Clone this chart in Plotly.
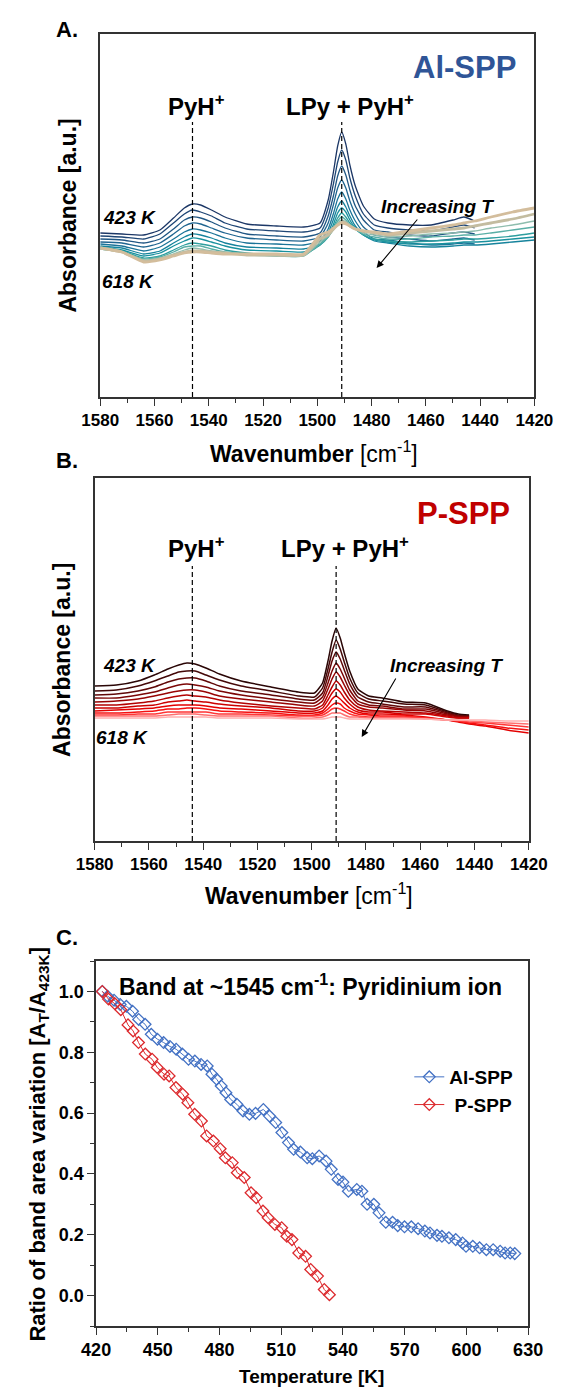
import plotly.graph_objects as go

W, H = 573, 1389
FONT = "Liberation Sans, Arial, sans-serif"
AX = "#333333"

# ---------------- Panel A / B spectra (wavenumber grid, cm-1) ----------------
WN = [1580, 1572, 1564, 1558, 1553, 1549, 1546, 1543, 1539, 1534, 1526, 1515, 1505,
      1499, 1496, 1494, 1492.5, 1491, 1489.5, 1488, 1486, 1483, 1479, 1474, 1466,
      1458, 1450, 1446, 1442, 1436, 1428, 1420]

A_TEMPS = [423, 441, 459, 476, 494, 512, 529, 547, 565, 583, 600, 618]
A_423 = [1.64,1.63,1.62,1.67,1.79,1.89,1.93,1.92,1.87,1.80,1.73,1.71,1.70,1.74,1.97,2.26,2.51,2.65,2.53,2.32,2.11,1.91,1.78,1.74,1.72,1.72,1.77,1.80,1.76,None,None,None]
A_441 = [1.61,1.60,1.58,1.63,1.74,1.83,1.87,1.85,1.81,1.74,1.68,1.66,1.65,1.69,1.89,2.14,2.35,2.47,2.37,2.19,2.01,1.83,1.72,1.69,1.67,1.66,1.70,1.72,1.69,None,None,None]
A_459 = [1.58,1.57,1.54,1.58,1.68,1.77,1.80,1.79,1.75,1.69,1.63,1.61,1.60,1.64,1.81,2.02,2.21,2.31,2.22,2.07,1.91,1.77,1.67,1.65,1.62,1.61,1.64,1.65,1.63,None,None,None]
A_476 = [1.55,1.54,1.50,1.54,1.63,1.71,1.74,1.73,1.69,1.64,1.59,1.57,1.56,1.60,1.74,1.93,2.09,2.17,2.09,1.96,1.83,1.70,1.62,1.60,1.58,1.56,1.58,1.59,1.57,None,None,None]
A_494 = [1.53,1.51,1.46,1.50,1.58,1.65,1.68,1.67,1.64,1.59,1.54,1.53,1.52,1.56,1.68,1.84,1.98,2.05,1.98,1.87,1.76,1.65,1.58,1.57,1.54,1.52,1.53,1.54,1.53,None,None,None]
A_512 = [1.51,1.49,1.43,1.46,1.54,1.60,1.63,1.62,1.59,1.54,1.50,1.49,1.48,1.53,1.64,1.78,1.90,1.96,1.90,1.81,1.71,1.62,1.56,1.54,1.51,1.50,1.51,1.52,1.52,1.53,1.55,1.57]
A_529 = [1.50,1.47,1.41,1.44,1.51,1.56,1.59,1.58,1.55,1.51,1.47,1.46,1.45,1.52,1.61,1.73,1.84,1.89,1.85,1.77,1.69,1.62,1.57,1.55,1.53,1.53,1.54,1.55,1.55,1.56,1.58,1.60]
A_547 = [1.49,1.46,1.39,1.41,1.47,1.52,1.54,1.53,1.51,1.47,1.44,1.42,1.42,1.52,1.60,1.70,1.79,1.84,1.80,1.74,1.68,1.62,1.58,1.56,1.55,1.56,1.57,1.58,1.58,1.59,1.61,1.64]
A_565 = [1.48,1.45,1.38,1.40,1.45,1.50,1.51,1.51,1.48,1.45,1.43,1.41,1.41,1.53,1.60,1.68,1.76,1.80,1.77,1.72,1.68,1.63,1.60,1.58,1.58,1.60,1.61,1.62,1.62,1.64,1.67,1.70]
A_583 = [1.48,1.45,1.37,1.39,1.43,1.47,1.49,1.48,1.46,1.44,1.42,1.41,1.41,1.55,1.61,1.68,1.74,1.77,1.75,1.71,1.68,1.64,1.62,1.60,1.61,1.63,1.64,1.65,1.66,1.69,1.72,1.76]
A_600 = [1.49,1.45,1.36,1.38,1.42,1.45,1.46,1.46,1.45,1.44,1.42,1.42,1.42,1.58,1.62,1.68,1.72,1.75,1.74,1.71,1.68,1.66,1.64,1.62,1.64,1.66,1.68,1.69,1.71,1.74,1.78,1.83]
A_618 = [1.49,1.45,1.35,1.37,1.41,1.44,1.45,1.45,1.44,1.43,1.43,1.43,1.43,1.62,1.65,1.69,1.72,1.74,1.73,1.71,1.68,1.66,1.65,1.63,1.66,1.69,1.72,1.74,1.76,1.80,1.85,1.89]
A_SPECTRA = [A_423, A_441, A_459, A_476, A_494, A_512, A_529, A_547, A_565, A_583, A_600, A_618]
A_COLORS = ["#1C3766", "#1F4675", "#205683", "#1F6590", "#1B7498", "#16839C",
            "#19919E", "#2E9E9F", "#5AAFA6", "#8EBDAE", "#C3BCA0", "#D3BD9C"]

B_TEMPS = [423, 441, 459, 476, 494, 512, 529, 547, 565, 583, 600, 618]
B_423 = [1.55,1.56,1.60,1.66,1.72,1.76,1.78,1.77,1.73,1.67,1.60,1.54,1.49,1.48,1.58,1.80,2.00,2.13,2.03,1.88,1.70,1.52,1.45,1.43,1.39,1.38,1.30,1.27,1.26,None,None,None]
B_441 = [1.50,1.51,1.55,1.60,1.65,1.69,1.70,1.70,1.66,1.61,1.55,1.50,1.45,1.44,1.53,1.72,1.89,2.01,1.92,1.79,1.63,1.48,1.42,1.40,1.37,1.36,1.29,1.26,1.25,None,None,None]
B_459 = [1.46,1.47,1.50,1.54,1.59,1.62,1.63,1.63,1.60,1.55,1.50,1.46,1.42,1.41,1.48,1.65,1.80,1.89,1.82,1.71,1.57,1.44,1.39,1.37,1.34,1.34,1.28,1.25,1.25,None,None,None]
B_476 = [1.43,1.43,1.46,1.49,1.53,1.56,1.57,1.56,1.54,1.50,1.46,1.42,1.39,1.38,1.44,1.58,1.70,1.78,1.72,1.63,1.51,1.40,1.36,1.35,1.32,1.32,1.27,1.25,1.24,None,None,None]
B_494 = [1.39,1.40,1.42,1.45,1.48,1.50,1.51,1.51,1.49,1.45,1.42,1.39,1.36,1.35,1.40,1.52,1.62,1.69,1.64,1.56,1.46,1.37,1.34,1.33,1.31,1.30,1.26,1.24,1.24,None,None,None]
B_512 = [1.36,1.36,1.38,1.40,1.43,1.45,1.46,1.45,1.44,1.41,1.38,1.35,1.33,1.32,1.36,1.46,1.54,1.60,1.56,1.49,1.41,1.34,1.31,1.30,1.29,1.28,1.25,1.23,1.23,None,None,None]
B_529 = [1.33,1.33,1.35,1.36,1.39,1.40,1.41,1.40,1.39,1.37,1.35,1.33,1.30,1.30,1.33,1.41,1.48,1.52,1.49,1.43,1.37,1.31,1.29,1.29,1.27,1.27,1.24,1.23,1.23,None,None,None]
B_547 = [1.30,1.31,1.32,1.33,1.35,1.36,1.36,1.36,1.35,1.33,1.32,1.30,1.28,1.28,1.30,1.36,1.42,1.45,1.42,1.38,1.33,1.29,1.27,1.27,1.26,1.24,1.21,1.19,1.17,1.15,1.11,1.08]
B_565 = [1.28,1.28,1.29,1.30,1.32,1.32,1.33,1.33,1.32,1.30,1.29,1.28,1.26,1.26,1.28,1.32,1.36,1.38,1.37,1.33,1.30,1.27,1.26,1.25,1.25,1.23,1.21,1.20,1.18,1.16,1.13,1.11]
B_583 = [1.26,1.26,1.27,1.27,1.29,1.29,1.29,1.29,1.29,1.27,1.27,1.26,1.25,1.25,1.26,1.29,1.32,1.33,1.32,1.30,1.27,1.25,1.24,1.24,1.24,1.23,1.21,1.20,1.19,1.18,1.16,1.14]
B_600 = [1.25,1.25,1.25,1.25,1.26,1.27,1.27,1.27,1.26,1.25,1.25,1.25,1.23,1.23,1.24,1.26,1.28,1.28,1.28,1.26,1.24,1.24,1.23,1.23,1.23,1.22,1.21,1.21,1.20,1.19,1.18,1.17]
B_618 = [1.23,1.23,1.23,1.23,1.24,1.24,1.24,1.24,1.24,1.23,1.23,1.23,1.22,1.22,1.22,1.23,1.24,1.24,1.24,1.23,1.22,1.22,1.22,1.22,1.22,1.22,1.21,1.21,1.21,1.21,1.20,1.20]
B_SPECTRA = [B_423, B_441, B_459, B_476, B_494, B_512, B_529, B_547, B_565, B_583, B_600, B_618]
B_COLORS = ["#2A0606", "#440808", "#600808", "#7C0606", "#980404", "#B30202",
            "#CC0000", "#E30000", "#F51010", "#FF3535", "#FF7070", "#FFB0B0"]

A_BANDS = [1546, 1491]
B_BANDS = [1544, 1491]
BAND_LINE_TOP = 2.75

# ---------------- Panel C: band area ratio vs temperature ----------------
AL_T = [423, 425.6, 428.7, 431.7, 434.7, 437.7, 440.7, 443.8, 446.8, 449.8, 452.8, 455.9,
        458.9, 461.9, 464.9, 468, 471, 474, 476.3, 478.6, 480.8, 483.1, 485.4, 488.4,
        491.4, 494.5, 497.5, 501.3, 504.3, 507.3, 510.3, 513.5, 516, 519.3, 522.6, 525.1,
        528.4, 531.8, 534.3, 537.6, 540, 542.6, 546.7, 549.2, 551.7, 555, 557.5, 560.8,
        564.1, 566.6, 569.9, 573.2, 576.5, 579.8, 582.3, 585.7, 588.1, 591.5, 594.8, 598.1,
        599.8, 603.1, 606.4, 609.7, 613, 616.4, 618.8, 621.3, 623.5]
AL_R = [1.0, .984, .971, .957, .951, .935, .908, .892, .859, .843, .832, .819, .81, .794,
        .777, .771, .76, .755, .728, .711, .689, .667, .645, .629, .607, .596, .599, .612,
        .59, .569, .536, .503, .481, .472, .453, .45, .459, .442, .415, .382, .373, .343,
        .349, .343, .3, .3, .272, .241, .241, .23, .226, .226, .22, .212, .206, .198, .195,
        .19, .184, .173, .162, .162, .157, .151, .151, .146, .14, .14, .138]
P_T = [423, 426, 429, 432, 435.5, 438, 440.6, 443.9, 447.2, 449.7, 453, 455.5, 458.8,
       462.1, 464.6, 467.9, 471.2, 473.7, 477, 480.3, 482.8, 486.2, 488.6, 492, 495.3,
       497.8, 501.1, 503.6, 506.9, 510.2, 512.7, 515.2, 518.5, 521.8, 524.3, 527.6, 530.9, 533.4]
P_R = [1.0, .975, .96, .94, .89, .87, .832, .794, .777, .75, .728, .722, .684, .662, .634,
       .596, .574, .525, .508, .483, .453, .437, .404, .388, .338, .322, .278, .256, .234,
       .223, .195, .184, .14, .129, .086, .064, .02, .003]
BLUE = "#4472C4"
RED = "#DC2A2E"


def px(x):
    return x / W


def py(y):
    return 1 - y / H


fig = go.Figure()

for vals, col, t in zip(A_SPECTRA, A_COLORS, A_TEMPS):
    fig.add_trace(go.Scatter(x=WN, y=vals, mode="lines", xaxis="x", yaxis="y",
                             line=dict(color=col, width=2.8 if t >= 600 else 1.3,
                                       shape="spline", smoothing=0.5),
                             showlegend=False, hoverinfo="skip"))
for vals, col in zip(B_SPECTRA, B_COLORS):
    fig.add_trace(go.Scatter(x=WN, y=vals, mode="lines", xaxis="x2", yaxis="y2",
                             line=dict(color=col, width=1.5, shape="spline", smoothing=0.5),
                             showlegend=False, hoverinfo="skip"))

fig.add_trace(go.Scatter(x=AL_T, y=AL_R, mode="lines+markers", name="Al-SPP",
                         xaxis="x3", yaxis="y3",
                         line=dict(color=BLUE, width=1),
                         marker=dict(symbol="diamond-open", size=9, color=BLUE,
                                     line=dict(width=1.3, color=BLUE))))
fig.add_trace(go.Scatter(x=P_T, y=P_R, mode="lines+markers", name="\u00a0P-SPP",
                         xaxis="x3", yaxis="y3",
                         line=dict(color=RED, width=1),
                         marker=dict(symbol="diamond-open", size=9, color=RED,
                                     line=dict(width=1.3, color=RED))))

shapes = []
for wn in A_BANDS:
    shapes.append(dict(type="line", xref="x", yref="y", x0=wn, x1=wn, y0=0, y1=BAND_LINE_TOP,
                       line=dict(color="black", width=1.2, dash="5px,3px")))
for wn in B_BANDS:
    shapes.append(dict(type="line", xref="x2", yref="y2", x0=wn, x1=wn, y0=0, y1=BAND_LINE_TOP,
                       line=dict(color="black", width=1.2, dash="5px,3px")))

tickfont = dict(family=FONT, size=17, color="black", weight="bold")


def spec_x(domain, anchor):
    return dict(domain=domain, anchor=anchor, range=[1580, 1420], showline=True, mirror=True,
                linecolor=AX, linewidth=1.6, ticks="outside", ticklen=7, tickwidth=1.4,
                tickcolor=AX, tick0=1420, dtick=20, tickfont=tickfont,
                minor=dict(dtick=10, ticks="outside", ticklen=4, tickwidth=1.2, tickcolor=AX),
                showgrid=False, zeroline=False)


def spec_y(domain, anchor):
    return dict(domain=domain, anchor=anchor, range=[0, 3.63], showline=True, mirror=True,
                linecolor=AX, linewidth=1.6, showticklabels=False, ticks="",
                showgrid=False, zeroline=False)


ann = []


def text(t, x, y, size, color="black", weight="bold", style="normal", xanchor="center",
         angle=0):
    ann.append(dict(text=t, x=px(x), y=py(y), xref="paper", yref="paper", showarrow=False,
                    xanchor=xanchor, yanchor="middle", textangle=angle,
                    font=dict(family=FONT, size=size, color=color, weight=weight, style=style)))


text("A.", 38, 29, 22, xanchor="left")
text("B.", 38, 460, 22, xanchor="left")
text("C.", 38, 937, 22, xanchor="left")
text("Al-SPP", 534, 68, 31, color="#2F5597", xanchor="right")
text("P-SPP", 528, 513, 31, color="#C00000", xanchor="right")
text("PyH<sup>+</sup>", 190, 105, 24)
text("LPy + PyH<sup>+</sup>", 355, 105, 24)
text("PyH<sup>+</sup>", 190, 547, 24)
text("LPy + PyH<sup>+</sup>", 349, 547, 24)
text("423 K", 118, 218, 19, style="italic")
text("618 K", 117, 281, 19, style="italic")
text("423 K", 118, 666, 19, style="italic")
text("618 K", 110, 737, 19, style="italic")
text("Increasing T", 448, 206, 19, style="italic")
text("Increasing T", 458, 665, 19, style="italic")
text("Absorbance [a.u.]", 52, 216, 23, angle=-90)
text("Absorbance [a.u.]", 46, 660, 23, angle=-90)
text("<b>Wavenumber</b> [cm<sup>-1</sup>]", 316, 452, 23, weight="normal")
text("<b>Wavenumber</b> [cm<sup>-1</sup>]", 311, 894, 23, weight="normal")
text("Temperature [K]", 313, 1376, 19)
text("Ratio of band area variation [A<sub>T</sub>/A<sub>423K</sub>]", 21, 1144, 22, angle=-90)
text("Band at ~1545 cm<sup>-1</sup>: Pyridinium ion", 312, 985, 23)

for hx, hy, tx, ty in [(383, 268, 425, 218), (367, 737, 402, 677)]:
    ann.append(dict(x=px(hx), y=py(hy), xref="paper", yref="paper", ax=tx - hx, ay=ty - hy,
                    axref="pixel", ayref="pixel", showarrow=True, arrowhead=2, arrowsize=1.3,
                    arrowwidth=1.1, arrowcolor="black", text=""))

fig.update_layout(
    width=W, height=H, margin=dict(l=0, r=0, t=0, b=0),
    paper_bgcolor="white", plot_bgcolor="white",
    font=dict(family=FONT, color="black"),
    xaxis=spec_x([px(87), px(552)], "y"),
    yaxis=spec_y([py(397), py(34)], "x"),
    xaxis2=spec_x([px(81), px(546)], "y2"),
    yaxis2=spec_y([py(841), py(478)], "x2"),
    xaxis3=dict(domain=[px(82.6), px(545.3)], anchor="y3", range=[420, 630], showline=True,
                mirror=True, linecolor=AX, linewidth=1.6, ticks="outside", ticklen=7,
                tickwidth=1.4, tickcolor=AX, tick0=420, dtick=30,
                tickfont=dict(family=FONT, size=18, color="black", weight="bold"),
                minor=dict(dtick=15, ticks="outside", ticklen=4, tickwidth=1.2, tickcolor=AX),
                showgrid=False, zeroline=False),
    yaxis3=dict(domain=[py(1326), py(961)], anchor="x3", range=[-0.1, 1.1], showline=True,
                mirror=True, linecolor=AX, linewidth=1.6, ticks="outside", ticklen=7,
                tickwidth=1.4, tickcolor=AX, tick0=0, dtick=0.2, tickformat=".1f",
                tickfont=dict(family=FONT, size=18, color="black", weight="bold"),
                minor=dict(dtick=0.1, ticks="outside", ticklen=4, tickwidth=1.2, tickcolor=AX),
                showgrid=False, zeroline=False),
    legend=dict(x=px(418), y=py(1058), xanchor="left", yanchor="top",
                bgcolor="rgba(0,0,0,0)", font=dict(family=FONT, size=19, weight="bold"),
                itemwidth=30, tracegroupgap=0),
    shapes=shapes,
    annotations=ann,
)

fig.write_html("out.html", config={"displayModeBar": False, "staticPlot": False},
               post_script="document.body.style.margin='0';document.body.style.overflow='hidden';")
